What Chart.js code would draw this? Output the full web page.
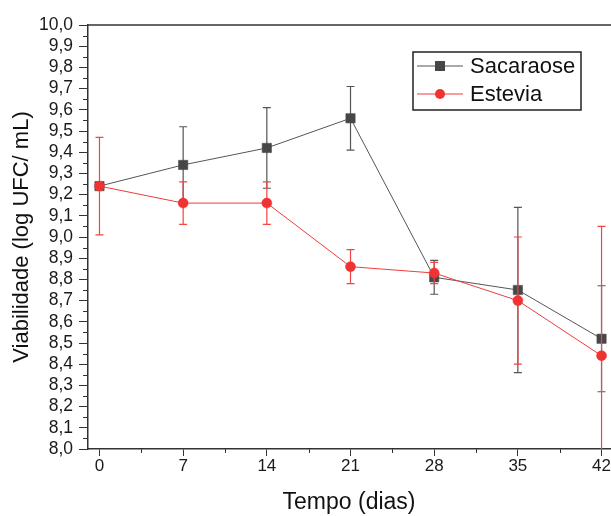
<!DOCTYPE html>
<html>
<head>
<meta charset="utf-8">
<script src="https://cdn.jsdelivr.net/npm/chart.js@4/dist/chart.umd.min.js"></script>
<style>
  html, body { margin: 0; padding: 0; background: #fff; overflow: hidden; }
  canvas { display: block; }
</style>
</head>
<body>
<canvas id="chart" width="611" height="516"></canvas>
<script>
// days of storage
var days = [0, 7, 14, 21, 28, 35, 42];

// mean viability (log UFC/mL)
var sacaraose = [9.24, 9.34, 9.42, 9.56, 8.81, 8.75, 8.52];
var estevia = [9.24, 9.16, 9.16, 8.86, 8.83, 8.70, 8.44];

// standard deviation (error bars)
var sacaraoseErr = [0, 0.18, 0.19, 0.15, 0.08, 0.39, 0.25];
var esteviaErr = [0.23, 0.10, 0.10, 0.08, 0.05, 0.30, 0.61];

var xTicks = [0, 7, 14, 21, 28, 35, 42];

function toPoints(ys) {
  return days.map(function (d, i) { return { x: d, y: ys[i] }; });
}

var errorBars = {
  id: 'errorBars',
  beforeDatasetDraw: function (chart, args) {
    var ds = chart.data.datasets[args.index];
    if (!ds.errors) return;
    var ctx = chart.ctx, y = chart.scales.y, area = chart.chartArea;
    ctx.save();
    ctx.beginPath();
    ctx.rect(area.left, area.top, chart.width - area.left, area.bottom - area.top);
    ctx.clip();
    ctx.strokeStyle = ds.errorColor;
    ctx.lineWidth = 1.2;
    args.meta.data.forEach(function (pt, i) {
      var e = ds.errors[i];
      if (!e) return;
      var top = y.getPixelForValue(ds.data[i].y + e);
      var bot = y.getPixelForValue(ds.data[i].y - e);
      ctx.beginPath();
      ctx.moveTo(pt.x, top); ctx.lineTo(pt.x, bot);
      ctx.moveTo(pt.x - 4, top); ctx.lineTo(pt.x + 4, top);
      ctx.moveTo(pt.x - 4, bot); ctx.lineTo(pt.x + 4, bot);
      ctx.stroke();
    });
    ctx.restore();
  }
};

var frame = {
  id: 'frame',
  afterDraw: function (chart) {
    var ctx = chart.ctx, a = chart.chartArea;
    var xs = chart.scales.x, ys = chart.scales.y;
    ctx.save();
    ctx.strokeStyle = '#333';
    ctx.lineWidth = 1.5;
    ctx.beginPath();
    ctx.moveTo(a.left, a.top); ctx.lineTo(chart.width, a.top);
    ctx.stroke();
    // minor ticks
    ctx.lineWidth = 1;
    ctx.beginPath();
    for (var i = 0; i < ys.ticks.length - 1; i++) {
      var py = Math.round(ys.getPixelForValue((ys.ticks[i].value + ys.ticks[i + 1].value) / 2)) + 0.5;
      ctx.moveTo(a.left, py); ctx.lineTo(a.left - 5, py);
    }
    for (var j = 0; j < xs.ticks.length; j++) {
      var px = Math.round(xs.getPixelForValue(xs.ticks[j].value + 3.5)) + 0.5;
      if (px < chart.width) { ctx.moveTo(px, a.bottom); ctx.lineTo(px, a.bottom + 4); }
    }
    ctx.stroke();

    // legend
    var lg = chart.options.plugins.boxLegend;
    ctx.lineWidth = 1.5;
    ctx.strokeStyle = '#222';
    ctx.strokeRect(lg.x, lg.y, lg.w, lg.h);
    ctx.font = '22px "Liberation Sans", Arial, sans-serif';
    ctx.textBaseline = 'middle';
    chart.data.datasets.forEach(function (ds, k) {
      var ry = lg.y + 14 + k * 28;
      ctx.strokeStyle = ds.borderColor;
      ctx.lineWidth = 1;
      ctx.beginPath();
      ctx.moveTo(lg.x + 4, ry); ctx.lineTo(lg.x + 50, ry);
      ctx.stroke();
      ctx.fillStyle = ds.pointBackgroundColor;
      ctx.beginPath();
      if (ds.pointStyle === 'rect') ctx.rect(lg.x + 22, ry - 5, 10, 10);
      else ctx.arc(lg.x + 27, ry, 5, 0, Math.PI * 2);
      ctx.fill();
      ctx.fillStyle = '#111';
      ctx.fillText(ds.label, lg.x + 57, ry + 1);
    });
    ctx.restore();
  }
};

Chart.defaults.font.family = '"Liberation Sans", Arial, sans-serif';

var ctx = document.getElementById('chart').getContext('2d');
var chart = new Chart(ctx, {
  type: 'line',
  data: {
    datasets: [{
      label: 'Sacaraose',
      data: toPoints(sacaraose),
      errors: sacaraoseErr,
      errorColor: '#555',
      borderColor: '#555',
      borderWidth: 1,
      pointStyle: 'rect',
      pointRadius: 6.6,
      pointBackgroundColor: '#474747',
      pointBorderColor: '#474747',
      pointBorderWidth: 0.5,
      order: 1
    }, {
      label: 'Estevia',
      data: toPoints(estevia),
      errors: esteviaErr,
      errorColor: '#f04646',
      borderColor: '#f03c3c',
      borderWidth: 1,
      pointStyle: 'circle',
      pointRadius: 5,
      pointBackgroundColor: '#f03232',
      pointBorderColor: '#f03232',
      pointBorderWidth: 0.5,
      order: 0
    }]
  },
  options: {
    responsive: false,
    animation: false,
    devicePixelRatio: 1,
    layout: { autoPadding: false, padding: { top: 25, left: 0, right: 0, bottom: 0 } },
    plugins: {
      legend: { display: false },
      tooltip: { enabled: false },
      boxLegend: { x: 413, y: 52, w: 168, h: 58 }
    },
    scales: {
      x: {
        type: 'linear',
        min: -0.96,
        max: 42.71,
        afterBuildTicks: function (s) { s.ticks = xTicks.map(function (v) { return { value: v }; }); },
        afterFit: function (s) { s.height = 67; },
        grid: { drawOnChartArea: false, tickLength: 7, color: '#333', tickWidth: 1 },
        border: { color: '#333', width: 1.5 },
        ticks: { font: { size: 17 }, color: '#1a1a1a', padding: 0, maxRotation: 0, autoSkip: false },
        title: { display: true, text: 'Tempo (dias)', font: { size: 23 }, color: '#111', padding: { top: 2, bottom: 0 } }
      },
      y: {
        min: 8,
        max: 10,
        afterFit: function (s) { s.width = 88; },
        grid: { drawOnChartArea: false, tickLength: 9, color: '#333', tickWidth: 1 },
        border: { color: '#333', width: 1.5 },
        ticks: {
          stepSize: 0.1,
          font: { size: 17.5 },
          color: '#1a1a1a',
          padding: 6,
          autoSkip: false,
          callback: function (v) { return Number(v).toFixed(1).replace('.', ','); }
        },
        title: { display: true, text: 'Viabilidade (log UFC/ mL)', font: { size: 22 }, color: '#111', padding: { top: 9, bottom: 0 } }
      }
    }
  },
  plugins: [errorBars, frame]
});
</script>
</body>
</html>
